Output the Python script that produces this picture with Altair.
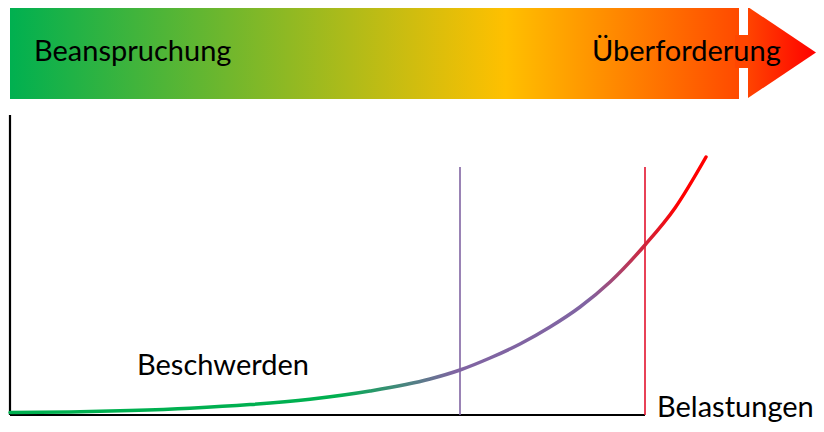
import altair as alt
import pandas as pd

# ---- data (axis units: x = Belastungen, y = Beschwerden; origin at the axes corner)
curve_x = [0, 60, 120, 180, 240, 300, 360, 420, 450, 480, 510, 540, 570, 600, 635, 665, 696]
curve_y = [2.5, 3, 4.5, 6.8, 10.4, 15.8, 24, 36, 45, 57, 71, 88, 108, 133, 170, 207, 258]

threshold_x = [450, 635]
threshold_colors = ["#8064A2", "#E3122D"]
threshold_top = 248

axis_len_x = 635
axis_len_y = 300

banner_labels = ["Beanspruchung", "Überforderung"]
banner_label_x = [24, 582]
banner_label_y = [354, 354]
axis_labels = ["Beschwerden", "Belastungen"]
axis_label_x = [127, 647]
axis_label_y = [40, -2]

# banner geometry (same units)
banner_rect = {"x": 0, "x2": 729, "y": 409, "y2": 316}
shaft_rect = {"x": 725, "x2": 739, "y": 380, "y2": 347}
head_x = [738, 806]
head_top = [408, 362.5]
head_bot = [317, 362.5]

X = alt.Scale(domain=[-2, 806], nice=False, zero=False)
Y = alt.Scale(domain=[-9, 407], nice=False, zero=False)


def grad(stops):
    return {
        "gradient": "linear",
        "x1": 0, "y1": 0, "x2": 1, "y2": 0,
        "stops": [{"offset": o, "color": c} for o, c in stops],
    }


banner = alt.Chart(pd.DataFrame([banner_rect])).mark_rect(
    fill=grad([(0, "#00B050"), (0.68, "#FFC000"), (1, "#FF4A00")])
).encode(
    x=alt.X("x:Q", scale=X, axis=None), x2="x2:Q",
    y=alt.Y("y:Q", scale=Y, axis=None), y2="y2:Q",
)

shaft = alt.Chart(pd.DataFrame([shaft_rect])).mark_rect(fill="#FF4600").encode(
    x=alt.X("x:Q", scale=X, axis=None), x2="x2:Q",
    y=alt.Y("y:Q", scale=Y, axis=None), y2="y2:Q",
)

head = alt.Chart(pd.DataFrame({"x": head_x, "y": head_top, "y2": head_bot})).mark_area(
    fill=grad([(0, "#FF4400"), (1, "#FF0000")])
).encode(
    x=alt.X("x:Q", scale=X, axis=None),
    y=alt.Y("y:Q", scale=Y, axis=None), y2="y2:Q",
)

axes_df = pd.DataFrame({
    "x": [0, 0], "x2": [0, axis_len_x], "y": [0, 0], "y2": [axis_len_y, 0],
})
axes = alt.Chart(axes_df).mark_rule(color="black", strokeWidth=2.2).encode(
    x=alt.X("x:Q", scale=X, axis=None), x2="x2:Q",
    y=alt.Y("y:Q", scale=Y, axis=None), y2="y2:Q",
)

thr_df = pd.DataFrame({"x": threshold_x, "y": [0, 0], "y2": [threshold_top] * 2,
                       "c": threshold_colors})
thresholds = alt.Chart(thr_df).mark_rule(strokeWidth=1.6).encode(
    x=alt.X("x:Q", scale=X, axis=None),
    y=alt.Y("y:Q", scale=Y, axis=None), y2="y2:Q",
    color=alt.Color("c:N", scale=None, legend=None),
)

curve = alt.Chart(pd.DataFrame({"x": curve_x, "y": curve_y})).mark_line(
    interpolate="monotone", strokeWidth=3.5, strokeCap="round",
    stroke=grad([(0, "#00B050"), (0.47, "#00B050"), (0.64, "#8064A2"),
                 (0.83, "#8064A2"), (0.96, "#FF0000"), (1, "#FF0000")]),
).encode(
    x=alt.X("x:Q", scale=X, axis=None),
    y=alt.Y("y:Q", scale=Y, axis=None),
)

text_df = pd.DataFrame({
    "t": banner_labels + axis_labels,
    "x": banner_label_x + axis_label_x,
    "y": banner_label_y + axis_label_y,
})
texts = alt.Chart(text_df).mark_text(
    align="left", baseline="alphabetic", font="Lato", fontSize=29, color="black"
).encode(
    x=alt.X("x:Q", scale=X, axis=None),
    y=alt.Y("y:Q", scale=Y, axis=None),
    text="t:N",
)

chart = alt.layer(banner, shaft, head, axes, thresholds, curve, texts).properties(
    width=808, height=416,
    autosize=alt.AutoSizeParams(type="none"),
    padding=0,
).configure_view(stroke=None)

chart.save("out.html", embed_options={"renderer": "svg", "actions": False})
